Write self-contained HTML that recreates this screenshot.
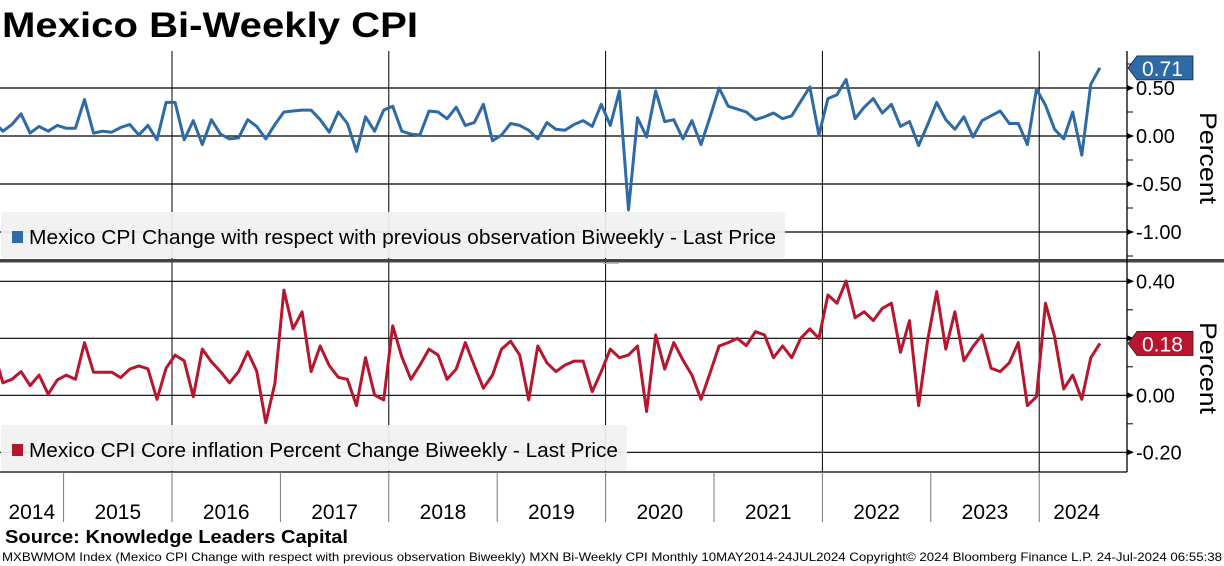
<!DOCTYPE html>
<html><head><meta charset="utf-8"><style>
html,body{margin:0;padding:0;background:#fff;}
svg{display:block;font-family:"Liberation Sans",sans-serif;}
</style></head><body>
<svg id="chart" width="1224" height="566" viewBox="0 0 1224 566" xmlns="http://www.w3.org/2000/svg">
<text x="2" y="37" font-size="35" font-weight="bold" textLength="416" lengthAdjust="spacingAndGlyphs">Mexico Bi-Weekly CPI</text>
<g id="top"></g>
<g id="bot"></g>
<g id="xax"></g>
<rect x="0" y="259" width="1224" height="3.5" fill="#444"/>
<line x1="603" y1="263.5" x2="619" y2="263.5" stroke="#bbb" stroke-width="1"/>
<line x1="1127" y1="51" x2="1127" y2="472" stroke="#000" stroke-width="1.3"/>
<text transform="translate(1200,112) rotate(90)" font-size="24" textLength="92" lengthAdjust="spacingAndGlyphs">Percent</text>
<text transform="translate(1200,322) rotate(90)" font-size="24" textLength="92" lengthAdjust="spacingAndGlyphs">Percent</text>
<text x="5" y="543" font-size="18" font-weight="bold" textLength="343" lengthAdjust="spacingAndGlyphs">Source: Knowledge Leaders Capital</text>
<text x="2" y="561" font-size="12" textLength="1220" lengthAdjust="spacingAndGlyphs">MXBWMOM Index (Mexico CPI Change with respect with previous observation Biweekly) MXN Bi-Weekly CPI  Monthly 10MAY2014-24JUL2024  Copyright© 2024 Bloomberg Finance L.P.  24-Jul-2024 06:55:38</text>
</svg>
<script>
const headlineValues=[0.15,0.05,0.12,0.23,0.03,0.10,0.05,0.11,0.08,0.08,
0.38,0.03,0.05,0.04,0.09,0.12,0.01,0.11,-0.04,0.35,
0.35,-0.04,0.16,-0.09,0.17,0.02,-0.03,-0.02,0.17,0.10,
-0.03,0.12,0.25,0.26,0.27,0.27,0.17,0.04,0.25,0.13,
-0.16,0.20,0.05,0.27,0.31,0.05,0.02,0.01,0.26,0.25,
0.18,0.30,0.11,0.14,0.33,-0.05,0.01,0.13,0.11,0.06,
-0.03,0.14,0.07,0.06,0.12,0.16,0.10,0.33,0.11,0.47,
-0.77,0.19,-0.01,0.47,0.15,0.17,-0.03,0.16,-0.09,0.20,
0.50,0.31,0.28,0.25,0.17,0.20,0.24,0.18,0.21,0.36,
0.51,0.01,0.39,0.43,0.59,0.18,0.30,0.39,0.24,0.33,
0.10,0.15,-0.10,0.12,0.35,0.17,0.07,0.20,-0.01,0.16,
0.21,0.26,0.13,0.13,-0.09,0.49,0.32,0.07,-0.03,0.25,
-0.20,0.54,0.71];
const coreValues=[0.153,0.044,0.056,0.083,0.034,0.071,0.004,0.054,0.071,0.056,
0.185,0.081,0.081,0.081,0.062,0.092,0.103,0.093,-0.014,0.095,
0.141,0.121,-0.005,0.162,0.118,0.083,0.044,0.083,0.153,0.085,
-0.096,0.042,0.369,0.233,0.293,0.083,0.173,0.104,0.063,0.056,
-0.036,0.132,0.001,-0.016,0.244,0.135,0.056,0.106,0.162,0.141,
0.056,0.092,0.185,0.104,0.025,0.071,0.162,0.19,0.141,-0.016,
0.173,0.114,0.083,0.106,0.12,0.12,0.013,0.083,0.162,0.132,
0.141,0.173,-0.057,0.212,0.092,0.185,0.124,0.071,-0.014,0.079,
0.173,0.185,0.2,0.174,0.223,0.212,0.132,0.173,0.132,0.2,
0.233,0.2,0.352,0.323,0.401,0.272,0.293,0.262,0.305,0.323,
0.151,0.262,-0.036,0.194,0.364,0.162,0.293,0.121,0.171,0.212,
0.095,0.083,0.114,0.185,-0.036,-0.005,0.323,0.206,0.022,0.071,
-0.014,0.132,0.182];
const years=["2014","2015","2016","2017","2018","2019","2020","2021","2022","2023","2024"];
const topTicks=[0.5,0,-0.5,-1.0];
const topTickLabels=["0.50","0.00","-0.50","-1.00"];
const botTicks=[0.4,0.2,0,-0.2];
const botTickLabels=["0.40","0.20","0.00","-0.20"];
const startYearFrac=2014+130/365; // 10 May 2014
const endYearFrac=2024+205/366;   // 24 Jul 2024

const NS="http://www.w3.org/2000/svg";
function mk(tag,attrs,parent){const e=document.createElementNS(NS,tag);for(const k in attrs)e.setAttribute(k,attrs[k]);parent.appendChild(e);return e;}
const yearX=y=>172+(y-2016)*108.4;
const xIdx=(i,n)=>{const t=startYearFrac+(endYearFrac-startYearFrac)*i/(n-1);return yearX(t);};
const yTop=v=>136-v*96;
const yBot=v=>395.3-v*285;
const topG=document.getElementById('top'),botG=document.getElementById('bot'),xG=document.getElementById('xax');

function panel(g,y0,y1,ticks,labels,ys,minorStep,lo,hi,values,color,legendText,legY,legW,last,lastLabel){
  for(let yr=2016;yr<=2024;yr+=2){
    const l=mk('line',{x1:yearX(yr),x2:yearX(yr),y1:y0,y2:y1,stroke:'#000','stroke-width':1},g);
    
    
  }
  ticks.forEach((t,i)=>{
    const l=mk('line',{x1:0,x2:1127,y1:ys(t),y2:ys(t),stroke:'#000','stroke-width':1.2},g);
    
    
    mk('path',{d:`M1127 ${ys(t)-3} L1134 ${ys(t)} L1127 ${ys(t)+3}Z`,fill:'#000'},g);
    const tx=mk('text',{x:1136,y:ys(t)+7,'font-size':20},g);
    tx.textContent=labels[i];
    
    
  });
  for(let v=lo;v<=hi+1e-9;v+=minorStep){
    mk('line',{x1:1127,x2:1133,y1:ys(v),y2:ys(v),stroke:'#000','stroke-width':1},g);
  }
  const leg=mk('rect',{x:1,y:legY,width:legW,height:46,rx:3,fill:'#f1f1f1',opacity:0.93},g);
  
  
  mk('rect',{x:12,y:legY+19,width:11,height:12,fill:color},g);
  const lt=mk('text',{x:29,y:legY+32,'font-size':20,textLength:legW-37,lengthAdjust:'spacingAndGlyphs'},g);
  lt.textContent=legendText;
  
  
  const n=values.length;
  const d=values.map((v,i)=>(i?'L':'M')+xIdx(i,n).toFixed(1)+' '+ys(v).toFixed(1)).join(' ');
  const p=mk('path',{d:d,fill:'none',stroke:color,'stroke-width':3,'stroke-linejoin':'round'},g);
  
  
  const ly=ys(last);
  const lb=mk('path',{d:`M1128 ${ly} L1137 ${ly-12} L1193 ${ly-12} L1193 ${ly+12} L1137 ${ly+12}Z`,fill:color,stroke:'#222','stroke-width':0.8},g);
  
  
  const lv=mk('text',{x:1142,y:ly+8,'font-size':21,fill:'#fff'},g);
  lv.textContent=lastLabel;
  
  
}
const hl=headlineValues[headlineValues.length-1], cl=coreValues[coreValues.length-1];
panel(topG,51,259,topTicks,topTickLabels,yTop,0.25,-1.25,0.75,headlineValues,'#2d6aa6','Mexico CPI Change with respect with previous observation Biweekly - Last Price',212,784,hl,hl.toFixed(2));
panel(botG,262,472,botTicks,botTickLabels,yBot,0.1,-0.2,0.45,coreValues,'#b8162f','Mexico CPI Core inflation Percent Change Biweekly - Last Price',425,626,cl,cl.toFixed(2));
mk('line',{x1:0,x2:1127,y1:472,y2:472,stroke:'#000','stroke-width':1.3},xG);
years.forEach((y,i)=>{
  const yr=2014+i;
  if(yr>2014){const s=mk('line',{x1:yearX(yr),x2:yearX(yr),y1:472,y2:522,stroke:'#777','stroke-width':1},xG);
  
  }
  const a=Math.max(yearX(yr),0),b=Math.min(yearX(yr+1),Math.min(yearX(endYearFrac)+14,1127));
  const t=mk('text',{x:(a+b)/2,y:519,'font-size':21,'text-anchor':'middle'},xG);
  t.textContent=y;
  
  
});
</script>
</body></html>
